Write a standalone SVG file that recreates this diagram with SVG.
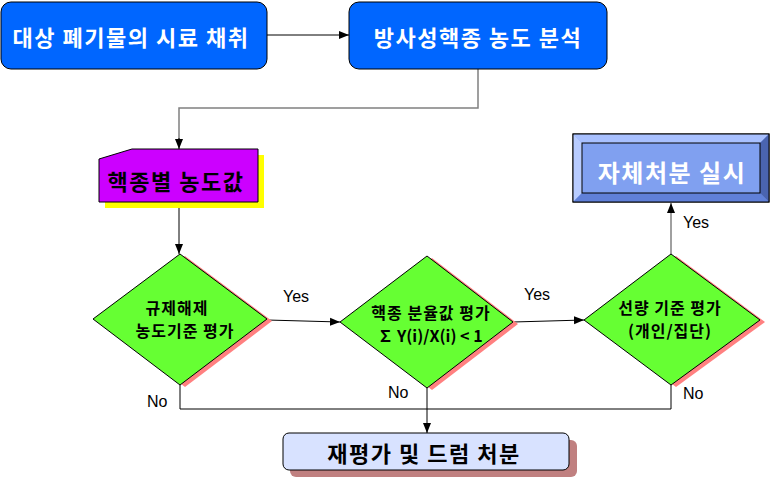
<svg xmlns="http://www.w3.org/2000/svg" width="770" height="479" viewBox="0 0 770 479">
<defs>
<style>
.ko{font-family:"Noto Sans CJK KR","Noto Sans",sans-serif;font-weight:bold;text-anchor:middle;dominant-baseline:central}
.big{letter-spacing:1.5px}
.sm{letter-spacing:1px}
.w{fill:#ffffff}
.k{fill:#000000}
.lbl{font-family:"Liberation Sans",Arial,sans-serif;font-size:16px;fill:#000}
.dia{fill:#66FF33;stroke:#000;stroke-width:1}
.dsh{fill:#FF8080}
.ln{fill:none;stroke:#000;stroke-width:1}
.lg{fill:none;stroke:#808080;stroke-width:1.5}
</style>
<marker id="ah" viewBox="0 0 10 10" refX="10" refY="5" markerWidth="10" markerHeight="10" markerUnits="userSpaceOnUse" orient="auto">
<path d="M0,1 L10,5 L0,9 Z" fill="#000"/>
</marker>
</defs>
<rect width="770" height="479" fill="#ffffff"/>

<g id="connectors">
<line class="ln" x1="267" y1="35" x2="349" y2="35" marker-end="url(#ah)"/>
<polyline class="lg" points="478,69 478,108 179,108 179,140"/>
<line class="ln" x1="179" y1="138" x2="179" y2="149" marker-end="url(#ah)"/>
<line class="ln" x1="179" y1="202" x2="179" y2="254" marker-end="url(#ah)"/>
<polyline class="ln" points="267,320 340,322" marker-end="url(#ah)"/>
<polyline class="ln" points="513,322 584,320" marker-end="url(#ah)"/>
<line class="lg" x1="671" y1="254" x2="671" y2="203" marker-end="url(#ah)"/>
<polyline class="ln" points="180,385 180,409 671,409 671,385"/>
<line class="ln" x1="427" y1="388" x2="427" y2="433" marker-end="url(#ah)"/>
<text class="lbl" x="283" y="302">Yes</text>
<text class="lbl" x="524" y="300">Yes</text>
<text class="lbl" x="683" y="228">Yes</text>
<text class="lbl" x="147" y="407">No</text>
<text class="lbl" x="388" y="398">No</text>
<text class="lbl" x="683" y="399">No</text>
</g>

<g id="node-sampling">
<rect x="1" y="2" width="266" height="67" rx="10" ry="10" fill="#0066FF" stroke="#000" stroke-width="1"/>
<text class="ko w big" x="131" y="36" font-size="22">대상 폐기물의 시료 채취</text>
</g>

<g id="node-analysis">
<rect x="349" y="2" width="258" height="67" rx="10" ry="10" fill="#0066FF" stroke="#000" stroke-width="1"/>
<text class="ko w big" x="478" y="36" font-size="22">방사성핵종 농도 분석</text>
</g>

<g id="node-concentration">
<polygon points="105,165 138,155 264,155 264,208 105,208" fill="#FFFF00"/>
<polygon points="99,159 132,149 258,149 258,202 99,202" fill="#CC00FF" stroke="#000" stroke-width="1"/>
<text class="ko k big" x="176" y="180" font-size="22">핵종별 농도값</text>
</g>

<g id="node-clearance">
<polygon class="dsh" points="185,256 272,321 185,387 98,321"/>
<polygon class="dia" points="180,254 267,319 180,385 93,319"/>
<text class="ko k sm" x="177" y="307" font-size="16">규제해제</text>
<text class="ko k sm" x="185" y="330" font-size="16">농도기준 평가</text>
</g>

<g id="node-fraction">
<polygon class="dsh" points="432,258 518,324 432,390 345,324"/>
<polygon class="dia" points="427,256 513,322 427,388 340,322"/>
<text class="ko k sm" x="431" y="312" font-size="16">핵종 분율값 평가</text>
<text class="ko k" x="430" y="335" font-size="16">∑ Y(i)/X(i) &lt; 1</text>
</g>

<g id="node-dose">
<polygon class="dsh" points="676,256 765,322 676,387 589,322"/>
<polygon class="dia" points="671,254 760,320 671,385 584,320"/>
<text class="ko k sm" x="670" y="307" font-size="16">선량 기준 평가</text>
<text class="ko k sm" x="670" y="330" font-size="16">(개인/집단)</text>
</g>

<g id="node-self-disposal">
<rect x="573" y="134" width="196" height="68" fill="#80A0F0" stroke="#000" stroke-width="1"/>
<polygon points="573,134 769,134 760,143 582,143" fill="#A8C0FF"/>
<polygon points="573,134 582,143 582,193 573,202" fill="#B8CCFF"/>
<polygon points="573,202 582,193 760,193 769,202" fill="#6080D8"/>
<polygon points="769,134 769,202 760,193 760,143" fill="#4A64B0"/>
<rect x="582" y="143" width="178" height="50" fill="#80A0F0" stroke="#000" stroke-width="1"/>
<rect x="573" y="134" width="196" height="68" fill="none" stroke="#000" stroke-width="1"/>
<text class="ko w big" x="672" y="171" font-size="24">자체처분 실시</text>
</g>

<g id="node-reeval">
<rect x="290" y="440" width="287" height="37" rx="6" ry="6" fill="#C08080"/>
<rect x="283" y="433" width="286" height="37" rx="6" ry="6" fill="#D8E2FF" stroke="#000" stroke-width="1"/>
<text class="ko k big" x="424" y="452" font-size="22">재평가 및 드럼 처분</text>
</g>
</svg>
